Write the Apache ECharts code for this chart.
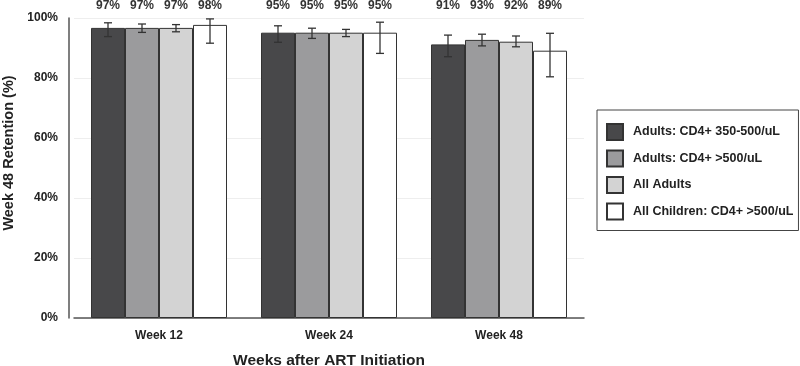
<!DOCTYPE html>
<html>
<head>
<meta charset="utf-8">
<script src="https://cdn.jsdelivr.net/npm/echarts@6/dist/echarts.min.js"></script>
<style>
  html, body { margin: 0; padding: 0; background: #fff; }
  #chart { width: 800px; height: 366px; }
</style>
</head>
<body>
<div id="chart"></div>
<script>
var weeks = ['Week 12', 'Week 24', 'Week 48'];
var groups = ['Adults: CD4+ 350-500/uL', 'Adults: CD4+ >500/uL', 'All Adults', 'All Children: CD4+ >500/uL'];

// retention (%) per group, one value per week
var adults350 = [96.7, 95.1, 91.2];
var adults500 = [96.7, 95.1, 92.7];
var allAdults = [96.7, 95.1, 92.1];
var children = [97.7, 95.1, 89.1];

// 95% CI lower / upper per group
var ciLow = [
    [93.8, 91.9, 87.1],
    [95.2, 93.2, 90.7],
    [95.4, 93.8, 90.4],
    [91.6, 88.2, 80.4]
];
var ciHigh = [
    [98.4, 97.4, 94.3],
    [98.0, 96.6, 94.6],
    [97.8, 96.2, 94.0],
    [99.7, 98.6, 94.9]
];

var values = [adults350, adults500, allAdults, children];
var colors = ['#48484a', '#9b9b9d', '#d3d3d3', '#ffffff'];
var font = 'Liberation Sans, Arial, sans-serif';
var barW = 34;

var series = values.map(function (vals, s) {
    return {
        name: groups[s],
        type: 'bar',
        barWidth: barW,
        barGap: '0%',
        itemStyle: { color: colors[s], borderColor: '#333', borderWidth: 1 },
        data: vals
    };
});

var errData = [];
values.forEach(function (vals, s) {
    vals.forEach(function (v, i) {
        errData.push([i, s, ciLow[s][i], ciHigh[s][i], Math.round(v)]);
    });
});

series.push({
    type: 'custom',
    clip: false,
    z: 10,
    silent: true,
    encode: { x: 0, y: [2, 3] },
    data: errData,
    renderItem: function (params, api) {
        var i = api.value(0), s = api.value(1);
        var off = (s - 1.5) * barW;
        var lo = api.coord([i, api.value(2)]);
        var hi = api.coord([i, api.value(3)]);
        var top = api.coord([i, 100]);
        var x = lo[0] + off;
        var st = { stroke: '#333', lineWidth: 1.3 };
        return {
            type: 'group',
            children: [
                { type: 'line', shape: { x1: x, y1: lo[1], x2: x, y2: hi[1] }, style: st },
                { type: 'line', shape: { x1: x - 4, y1: lo[1], x2: x + 4, y2: lo[1] }, style: st },
                { type: 'line', shape: { x1: x - 4, y1: hi[1], x2: x + 4, y2: hi[1] }, style: st },
                {
                    type: 'text',
                    style: {
                        x: x, y: top[1] - 12, text: api.value(4) + '%',
                        align: 'center', verticalAlign: 'middle',
                        fill: '#333', font: 'bold 12px ' + font
                    }
                }
            ]
        };
    }
});

var chart = echarts.init(document.getElementById('chart'));
chart.setOption({
    backgroundColor: '#fff',
    animation: false,
    textStyle: { fontFamily: font },
    legend: {
        data: groups,
        orient: 'vertical',
        left: 597,
        top: 110,
        padding: [13, 5, 10, 9],
        itemWidth: 16,
        itemHeight: 16,
        itemGap: 8.5,
        icon: 'rect',
        borderColor: '#444',
        borderWidth: 1,
        textStyle: { fontWeight: 'bold', fontSize: 12.5, color: '#222', fontFamily: font, padding: [0, 0, 0, 5] }
    },
    grid: { left: 74, top: 18, width: 510, bottom: 48, outerBoundsMode: 'none', containLabel: false },
    xAxis: {
        type: 'category',
        data: weeks,
        offset: 4,
        axisTick: { show: false },
        axisLine: { lineStyle: { color: '#555', width: 1.5 } },
        axisLabel: { margin: 8, fontWeight: 'bold', fontSize: 12, color: '#222' },
        name: 'Weeks after ART Initiation',
        nameLocation: 'middle',
        nameGap: 31,
        nameTextStyle: { fontWeight: 'bold', fontSize: 15.5, color: '#222' }
    },
    yAxis: {
        type: 'value',
        min: 0,
        max: 100,
        interval: 20,
        offset: 5,
        axisLine: { show: true, lineStyle: { color: '#555', width: 1.5 } },
        axisTick: { show: false },
        axisLabel: { formatter: '{value}%', margin: 11, fontWeight: 'bold', fontSize: 12, color: '#222' },
        splitLine: { lineStyle: { color: '#eeeeee' } },
        name: 'Week 48 Retention (%)',
        nameLocation: 'middle',
        nameGap: 52,
        nameTextStyle: { fontWeight: 'bold', fontSize: 14.5, color: '#222', padding: [0, 0, 0, 30] }
    },
    series: series
});
</script>
</body>
</html>
